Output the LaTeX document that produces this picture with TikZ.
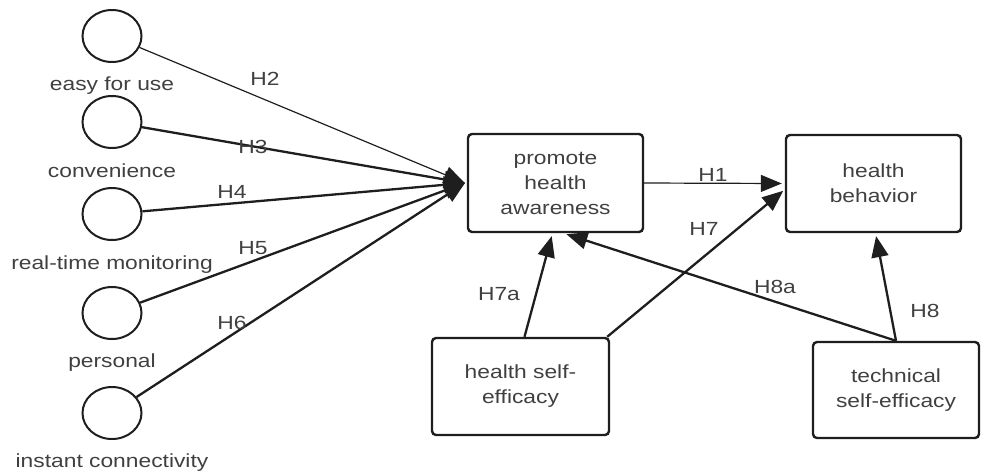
\documentclass[tikz,border=0pt]{standalone}
\usepackage{fontspec}
\setmainfont{Liberation Sans}[FakeStretch=1.2]
\usetikzlibrary{shapes.geometric,arrows.meta}
\definecolor{txt}{HTML}{404040}
\definecolor{ln}{HTML}{1E1E1E}
\begin{document}
\begin{tikzpicture}[x=1pt,y=-1pt,
  every node/.style={font=\fontsize{19}{25}\selectfont, text=txt},
  factor/.style={draw=ln, ellipse, line width=2pt, minimum width=59pt, minimum height=52pt, inner sep=0pt},
  construct/.style={draw=ln, rectangle, rounded corners=4pt, line width=2.4pt, align=center, inner sep=0pt},
  flabel/.style={anchor=base},
  hlabel/.style={anchor=base},
  tip/.style={-{Triangle[length=21pt,width=17pt]}},
  thin link/.style={draw=ln, line width=1.2pt, tip},
  thick link/.style={draw=ln, line width=2.3pt, tip}
]
\useasboundingbox (0,0) rectangle (984,475);

% left factors
\node[factor] (c1) at (112,36) {};
\node[factor] (c2) at (112,122) {};
\node[factor] (c3) at (112,214) {};
\node[factor] (c4) at (112,313) {};
\node[factor] (c5) at (112,413) {};
\node[flabel] (l1) at (112,90) {easy for use};
\node[flabel] (l2) at (112,177) {convenience};
\node[flabel] (l3) at (112,269) {real-time monitoring};
\node[flabel] (l4) at (112,367) {personal};
\node[flabel] (l5) at (112,467) {instant connectivity};

% constructs
\node[construct, minimum width=175pt, minimum height=98pt] (pha) at (555.5,183) {promote\\health\\awareness};
\node[construct, minimum width=175pt, minimum height=97pt] (hb) at (873.5,183.5) {health\\behavior};
\node[construct, minimum width=177pt, minimum height=97pt] (hse) at (520.5,386.5) {health self-\\efficacy};
\node[construct, minimum width=166pt, minimum height=96pt] (tse) at (896,390) {technical\\self-efficacy};

\coordinate (tgt) at (465,183);

% factor links
\draw[thin link] (c1) -- (tgt);
\draw[thick link] (c2) -- (tgt);
\draw[thick link] (c3) -- (tgt);
\draw[thick link] (c4) -- (tgt);
\draw[thick link] (c5) -- (tgt);

% construct links
\draw[thin link, shorten >=3pt] (pha.east) -- (hb.west);
\draw[thick link, shorten >=2pt] ([xshift=-3pt]hse.north east) -- ([yshift=-6pt]hb.west);
\draw[thick link, shorten >=3pt] ([xshift=4pt]hse.north) -- ([xshift=-3pt]pha.south);
\draw[thick link, shorten >=3pt] (tse.north) -- ([xshift=8pt]pha.south);
\draw[thick link, shorten >=3pt] (tse.north) -- ([xshift=2pt]hb.south);

% hypothesis labels
\node[hlabel] (h2) at (265,85) {H2};
\node[hlabel] (h3) at (253,153) {H3};
\node[hlabel] (h4) at (232,198) {H4};
\node[hlabel] (h5) at (253,254) {H5};
\node[hlabel] (h6) at (232,329) {H6};
\node[hlabel] (h1) at (713,181) {H1};
\node[hlabel] (h7) at (704,235) {H7};
\node[hlabel] (h7a) at (499,300) {H7a};
\node[hlabel] (h8a) at (775,293) {H8a};
\node[hlabel] (h8) at (925,317) {H8};
\end{tikzpicture}
\end{document}
